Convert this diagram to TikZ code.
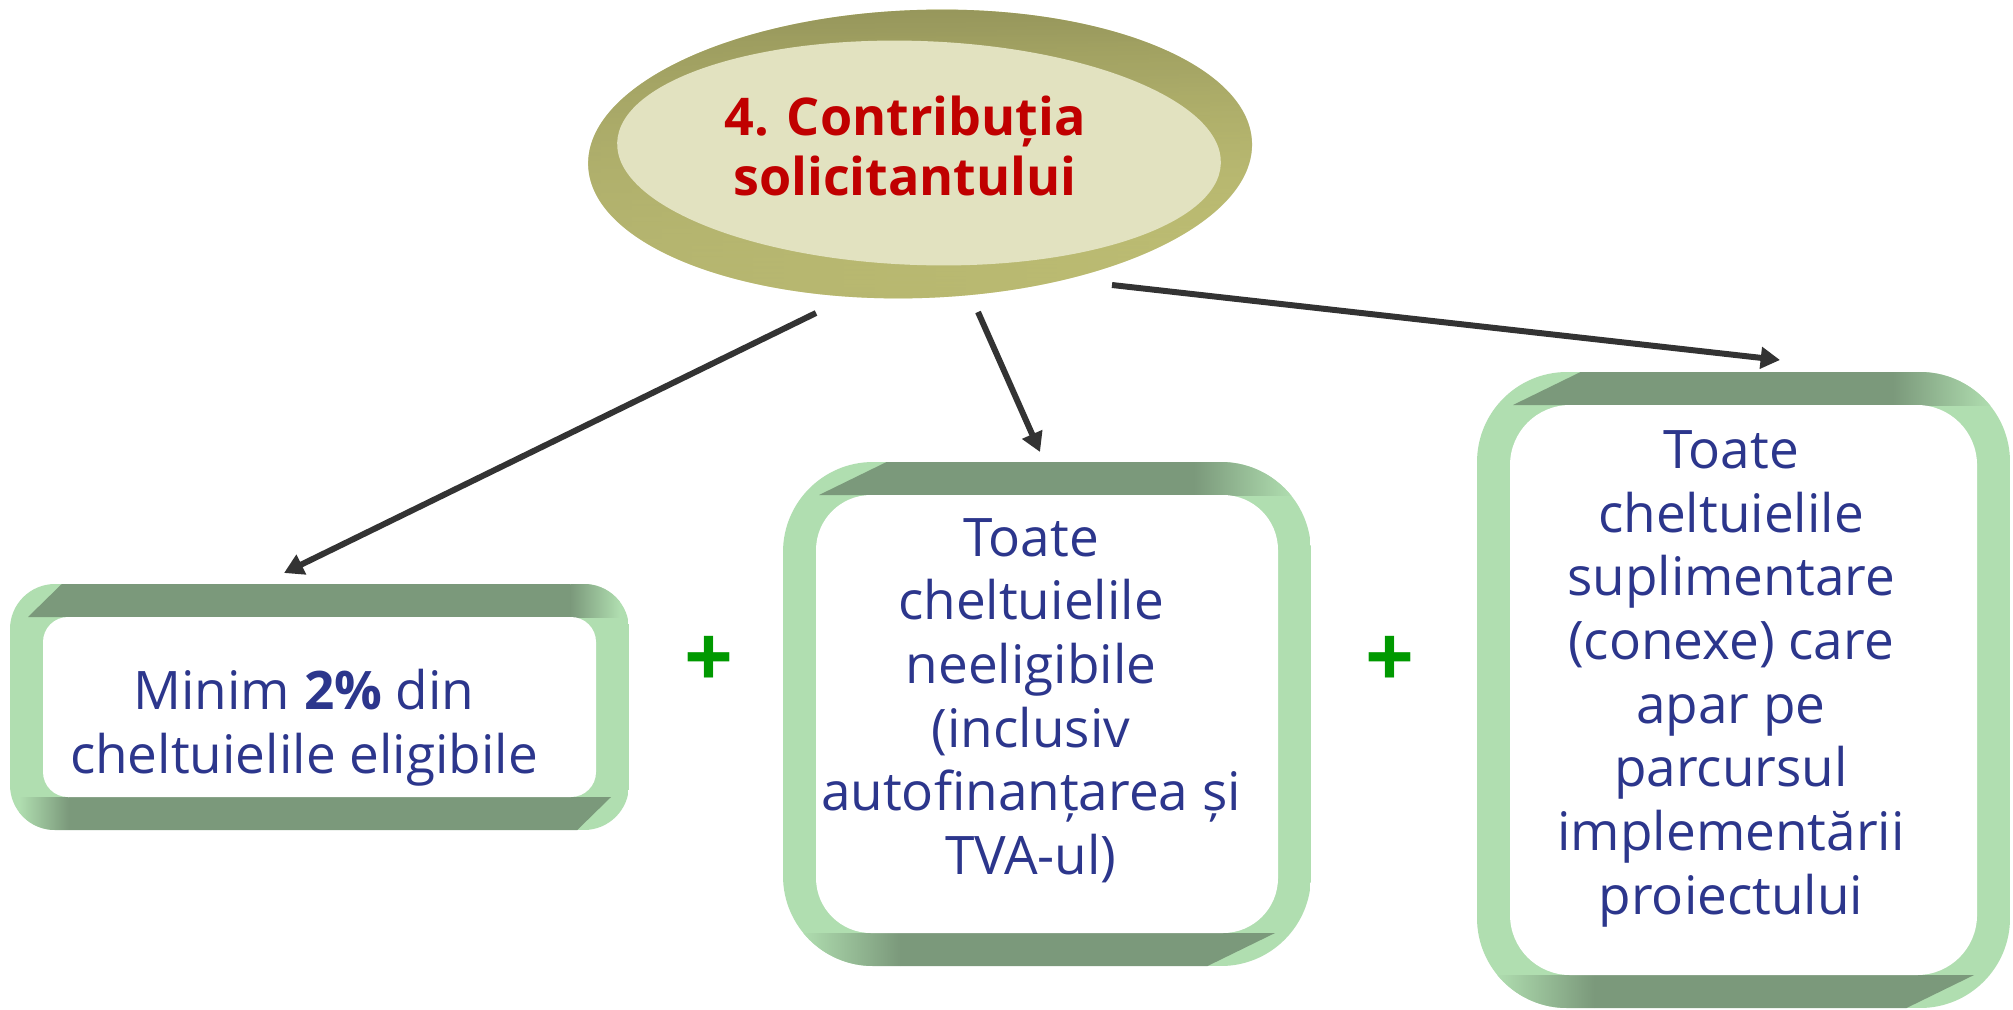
\documentclass[tikz,border=0pt]{standalone}
\usepackage{fontspec}
\newfontfamily\osans{Open Sans}
\usetikzlibrary{arrows.meta,fadings}
\definecolor{dgreen}{RGB}{123,153,123}
\definecolor{lgreen}{RGB}{176,222,176}
\definecolor{olL}{RGB}{202,202,128}
\definecolor{olM}{RGB}{178,178,108}
\definecolor{olR}{RGB}{224,224,138}
\definecolor{olD}{RGB}{148,148,90}
\definecolor{olB}{RGB}{172,172,104}
\definecolor{olIn}{RGB}{226,226,192}
\definecolor{tblue}{RGB}{44,54,140}
\definecolor{tred}{RGB}{192,0,0}
\definecolor{pgreen}{RGB}{0,153,0}
\definecolor{darr}{RGB}{51,51,51}
\tikzfading[name=fadetop, top color=transparent!5, middle color=transparent!80, bottom color=transparent!100]
\tikzfading[name=fadebot, top color=transparent!100, middle color=transparent!90, bottom color=transparent!30]
\newcommand\greenframe[6]{%
 \pgfmathsetmacro\ga{#1+1.15*#5}%
 \pgfmathsetmacro\gb{#1+0.4*#5}%
 \pgfmathsetmacro\gc{#3-1.3*#5}%
 \pgfmathsetmacro\gd{#3-0.2*#5}%
 \pgfmathsetmacro\gee{#1+0.2*#5}%
 \pgfmathsetmacro\gf{#1+1.3*#5}%
 \pgfmathsetmacro\gg{#3-0.4*#5}%
 \pgfmathsetmacro\gh{#3-1.15*#5}%
 \pgfmathsetmacro\gt{#2+33}%
 \pgfmathsetmacro\gu{#4-33}%
 \pgfmathsetmacro\gl{#1+33}%
 \pgfmathsetmacro\gr{#3-33}%
 \begin{scope}
  \clip[rounded corners=#5*0.01cm] (#1,#2) rectangle (#3,#4);
  \fill[lgreen] (#1,#2) rectangle (#3,#4);
  \fill[dgreen] (\ga,#2) -- (\gc,#2) -- (\gc,\gt) -- (\gb,\gt) -- cycle;
  \shade[left color=dgreen, right color=lgreen] (\gc,#2) rectangle (\gd,\gt);
  \fill[dgreen] (\gf,\gu) -- (\gg,\gu) -- (\gh,#4) -- (\gf,#4) -- cycle;
  \shade[left color=lgreen, right color=dgreen] (\gee,\gu) rectangle (\gf,#4);
 \end{scope}
 \fill[white, rounded corners=#6*0.01cm] (\gl,\gt) rectangle (\gr,\gu);
}
\tikzset{
 btext/.style={text=tblue, font=\osans\fontsize{15.1pt}{18.1pt}\selectfont, align=center, inner sep=0pt,
   execute at begin node=\strut, execute at end node=\strut},
 ttext/.style={text=tred, font=\osans\bfseries\fontsize{14.8pt}{17.1pt}\selectfont, align=center, inner sep=0pt,
   execute at begin node=\strut, execute at end node=\strut},
 plustext/.style={text=pgreen, font=\osans\bfseries\fontsize{24.4pt}{28pt}\selectfont, inner sep=0pt},
 arr/.style={draw=darr, line width=1.7pt, -{Triangle[length=5.5pt,width=6pt]}}
}
\begin{document}
\begin{tikzpicture}[x=0.01cm, y=-0.01cm]
\useasboundingbox (0,0) rectangle (2013,1009);
\fill[white] (0,0) rectangle (2013,1009);

% ellipse
\begin{scope}[shift={(920,154)}, rotate=2]
 \shade[left color=olL, middle color=olM, right color=olR] (0,0) ellipse (332 and 144);
 \fill[olD, path fading=fadetop] (0,0) ellipse (332 and 144);
 \fill[olB, path fading=fadebot] (0,0) ellipse (332 and 144);
\end{scope}
\begin{scope}[shift={(919,153)}, rotate=-2]
 \fill[olIn] (0,0) ellipse (302 and 112);
\end{scope}
\node[ttext] (ell) at (905,155) {4. Contribuția\\solicitantului};

% boxes
\greenframe{10}{584}{629}{830}{45}{25}
\greenframe{783}{462}{1311}{966}{90}{55}
\greenframe{1477}{372}{2010}{1008}{90}{60}

\node[btext] (b1) at (304,731) {Minim \textbf{2\%} din\\cheltuielile eligibile};
\node[btext] (b2) at (1031,706) {Toate\\cheltuielile\\neeligibile\\(inclusiv\\autofinanțarea și\\TVA-ul)};
\node[btext] (b3) at (1731,682) {Toate\\cheltuielile\\suplimentare\\(conexe) care\\apar pe\\parcursul\\implementării\\proiectului};

\node[plustext] (p1) at (709,662) {+};
\node[plustext] (p2) at (1390,662) {+};

% arrows
\coordinate (a1s) at (816,313);
\coordinate (a1e) at (284,573);
\coordinate (a2s) at (978,312);
\coordinate (a2e) at (1040,452);
\coordinate (a3s) at (1112,285);
\coordinate (a3e) at (1780,360);
\draw[arr] (a1s) -- (a1e);
\draw[arr] (a2s) -- (a2e);
\draw[arr] (a3s) -- (a3e);
\end{tikzpicture}
\end{document}
